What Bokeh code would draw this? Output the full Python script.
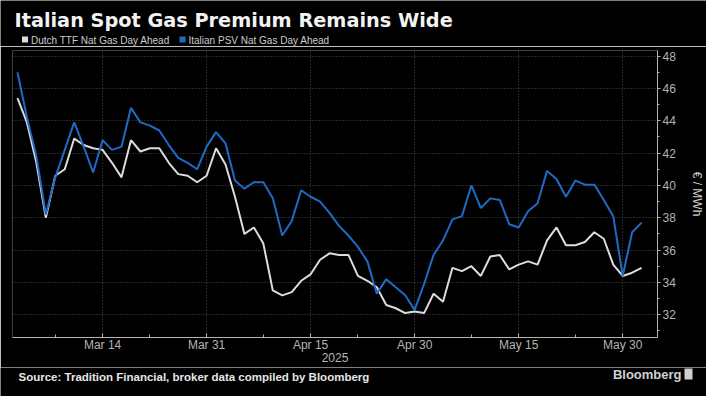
import pandas as pd
from bokeh.plotting import figure
from bokeh.layouts import column, row
from bokeh.models import ColumnDataSource, Range1d, FixedTicker, Label, BoxAnnotation
from bokeh.embed import file_html
from bokeh.resources import INLINE

# ---------------- data ----------------
title_text = "Italian Spot Gas Premium Remains Wide"
series_names = ["Dutch TTF Nat Gas Day Ahead", "Italian PSV Nat Gas Day Ahead"]
source_text = "Source: Tradition Financial, broker data compiled by Bloomberg"
brand_text = "Bloomberg"
y_axis_title = "€ / MWh"
year_label = "2025"

# business days (trading days) shown on the x axis
dates = pd.bdate_range("2025-03-03", "2025-06-03")

ttf = [45.4, 43.9, 41.4, 38.0, 40.6, 41.0, 42.9, 42.5, 42.3, 42.2,
       41.4, 40.5, 42.8, 42.1, 42.3, 42.3, 41.4, 40.7, 40.6, 40.2,
       40.6, 42.3, 41.3, 39.3, 37.0, 37.4, 36.4, 33.5, 33.2, 33.4,
       34.1, 34.5, 35.4, 35.8, 35.7, 35.7, 34.4, 34.1, 33.7, 32.6,
       32.4, 32.1, 32.2, 32.1, 33.3, 32.8, 34.9, 34.7, 35.0, 34.4,
       35.6, 35.7, 34.8, 35.1, 35.3, 35.1, 36.6, 37.4, 36.3, 36.3,
       36.5, 37.1, 36.7, 35.1, 34.4, 34.6, 34.9]

psv = [47.0, 44.2, 41.8, 38.2, 40.5, 42.2, 43.9, 42.4, 40.8, 42.8,
       42.2, 42.4, 44.8, 43.9, 43.7, 43.4, 42.5, 41.7, 41.4, 41.0,
       42.4, 43.3, 42.6, 40.3, 39.8, 40.2, 40.2, 39.2, 36.9, 37.8,
       39.7, 39.3, 39.0, 38.3, 37.5, 36.9, 36.2, 35.3, 33.3, 34.2,
       33.7, 33.2, 32.3, 33.9, 35.7, 36.6, 37.9, 38.1, 40.0, 38.6,
       39.2, 39.1, 37.6, 37.4, 38.4, 38.9, 40.9, 40.4, 39.3, 40.3,
       40.05, 40.05, 39.1, 38.1, 34.4, 37.1, 37.7]

x_tick_dates = ["2025-03-14", "2025-03-31", "2025-04-15", "2025-04-30", "2025-05-15", "2025-05-30"]
x_tick_labels = ["Mar 14", "Mar 31", "Apr 15", "Apr 30", "May 15", "May 30"]
x_minor_dates = ["2025-03-07", "2025-03-21", "2025-04-08", "2025-04-22", "2025-05-08", "2025-05-23"]
y_ticks = [32, 34, 36, 38, 40, 42, 44, 46, 48]
y_minor_ticks = [31, 33, 35, 37, 39, 41, 43, 45, 47]

# ---------------- style ----------------
W = 706
FRAME_L, FRAME_R = 12, 660
TOP_H = 46
MAIN_TOP, FRAME_H, MAIN_BOT = 4, 287, 30
MAIN_H = MAIN_TOP + FRAME_H + MAIN_BOT
BOT_H = 29
BG = "#000000"
TICK_COL = "#b4b4b4"
GRID_COL = "#4d4d4d"
WHITE_LINE = "#dcdcdc"
BLUE_LINE = "#1f6bc4"


def text_panel(h):
    # full-canvas frame: x/y data units == pixels of this panel
    return figure(width=W, height=h, title=None, output_backend="svg", toolbar_location=None,
                  x_range=Range1d(0, W), y_range=Range1d(h, 0),
                  x_axis_type=None, y_axis_type=None,
                  background_fill_color=BG, border_fill_color=BG,
                  min_border=0, min_border_left=0, min_border_right=0,
                  min_border_top=0, min_border_bottom=0, outline_line_color=None)


# ---------------- header: title + legend ----------------
top = text_panel(TOP_H)
top.add_layout(Label(x=14, y=20, text=title_text, text_color="#f2f2f2",
                     text_font="DejaVu Sans", text_font_style="bold",
                     text_font_size="19.3px", text_baseline="alphabetic", text_align="left"))
legend_cols = [WHITE_LINE, BLUE_LINE]
legend_x = [21.5, 179]
for name, col, lx in zip(series_names, legend_cols, legend_x):
    top.add_layout(BoxAnnotation(left=lx, right=lx + 6, top=36, bottom=42,
                                 fill_color=col, fill_alpha=1, line_color=None))
    top.add_layout(Label(x=lx + 9, y=39.5, text=name, text_color="#cccccc",
                         text_font="Liberation Sans", text_font_size="10px",
                         text_baseline="middle", text_align="left"))

# ---------------- main chart ----------------
date_index = {d.strftime("%Y-%m-%d"): i for i, d in enumerate(dates)}
idx = list(range(len(dates)))
src = ColumnDataSource(dict(i=idx, ttf=ttf, psv=psv))
tick_idx = [date_index[d] for d in x_tick_dates]
minor_idx = [date_index[d] for d in x_minor_dates]

p = figure(width=W, height=MAIN_H, title=None, output_backend="svg", toolbar_location=None,
           x_range=Range1d(-0.526, 67.68), y_range=Range1d(30.59, 48.35),
           background_fill_color=BG, border_fill_color=BG,
           min_border_left=FRAME_L, min_border_right=W - FRAME_R,
           min_border_top=MAIN_TOP, min_border_bottom=MAIN_BOT,
           y_axis_location="right", outline_line_color=None)

p.line(x="i", y="ttf", source=src, line_color=WHITE_LINE, line_width=2)
p.line(x="i", y="psv", source=src, line_color=BLUE_LINE, line_width=2)

xa = p.xaxis[0]
xa.ticker = FixedTicker(ticks=tick_idx, minor_ticks=minor_idx)
xa.major_label_overrides = {t: l for t, l in zip(tick_idx, x_tick_labels)}
xa.axis_line_color = TICK_COL
xa.major_tick_line_color = TICK_COL
xa.minor_tick_line_color = TICK_COL
xa.major_tick_in = 4
xa.major_tick_out = 0
xa.minor_tick_in = 3
xa.minor_tick_out = 0
xa.major_label_standoff = 0
xa.major_label_text_color = TICK_COL
xa.major_label_text_font = "Liberation Sans"
xa.major_label_text_font_size = "12px"
xa.axis_label = year_label
xa.axis_label_text_color = TICK_COL
xa.axis_label_text_font = "Liberation Sans"
xa.axis_label_text_font_size = "12px"
xa.axis_label_text_font_style = "normal"
xa.axis_label_standoff = -2

ya = p.yaxis[0]
ya.ticker = FixedTicker(ticks=y_ticks, minor_ticks=y_minor_ticks)
ya.axis_line_color = TICK_COL
ya.major_tick_line_color = TICK_COL
ya.minor_tick_line_color = TICK_COL
ya.major_tick_in = 0
ya.major_tick_out = 3
ya.minor_tick_in = 0
ya.minor_tick_out = 2
ya.major_label_standoff = 2
ya.major_label_text_color = TICK_COL
ya.major_label_text_font = "Liberation Sans"
ya.major_label_text_font_size = "12px"
ya.axis_label = y_axis_title
ya.axis_label_text_color = "#d0d0d0"
ya.axis_label_text_font = "Liberation Sans"
ya.axis_label_text_font_size = "12px"
ya.axis_label_text_font_style = "normal"
ya.axis_label_standoff = 11

p.xgrid.grid_line_color = GRID_COL
p.xgrid.grid_line_dash = "1 2"
p.ygrid.grid_line_color = GRID_COL
p.ygrid.grid_line_dash = "1 2"

# ---------------- footer: source + brand ----------------
bot = text_panel(BOT_H)
bot.add_layout(Label(x=18, y=9.5, text=source_text, text_color="#e6e6e6",
                     text_font="Liberation Sans", text_font_style="bold",
                     text_font_size="11.5px", text_baseline="middle", text_align="left"))
bot.add_layout(Label(x=681, y=6.5, text=brand_text, text_color="#d0d0d0",
                     text_font="Liberation Sans", text_font_style="bold",
                     text_font_size="13px", text_baseline="middle", text_align="right"))
bot.add_layout(BoxAnnotation(left=684, right=692, top=1, bottom=12,
                             fill_color="#d0d0d0", fill_alpha=1, line_color=None))

# wrap the text panels in rows so their frames are not aligned with the chart frame
layout = column(row(top), p, row(bot), spacing=0)
open("out.html", "w").write(file_html(layout, INLINE))
